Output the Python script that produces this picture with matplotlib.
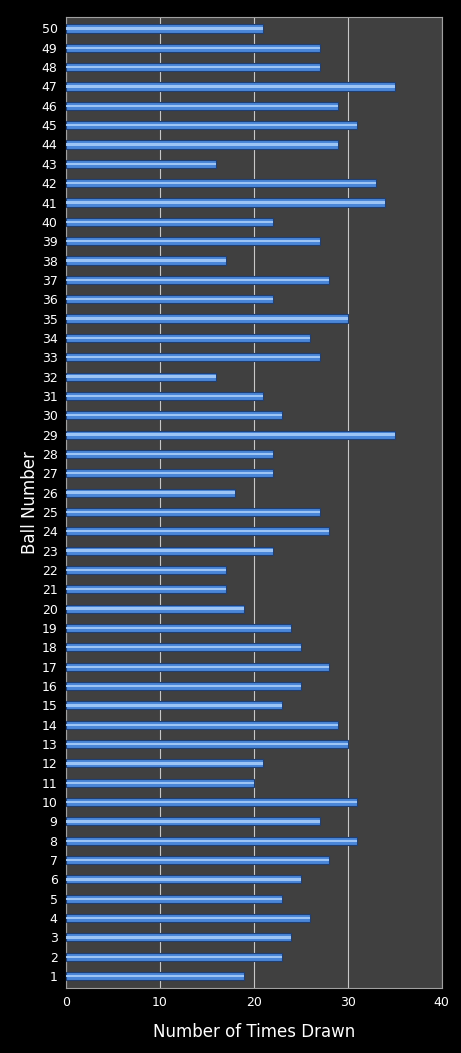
import matplotlib
matplotlib.use("Agg")
import matplotlib.pyplot as plt

balls = list(range(1, 51))
counts = [19, 23, 24, 26, 23, 25, 28, 31, 27, 31,
          20, 21, 30, 29, 23, 25, 28, 25, 24, 19,
          17, 17, 22, 28, 27, 18, 22, 22, 35, 23,
          21, 16, 27, 26, 30, 22, 28, 17, 27, 22,
          34, 33, 16, 29, 31, 29, 35, 27, 27, 21]

fig = plt.figure(figsize=(4.61, 10.53), dpi=100, facecolor='black')
ax = fig.add_axes([0.143, 0.062, 0.815, 0.922])
ax.set_facecolor('#404040')
ax.barh(balls, counts, height=0.42, color='#4a86d8', edgecolor='#1f3f73', linewidth=0.8, zorder=3)
ax.barh(balls, counts, height=0.12, left=0, color='#9cc4f5', linewidth=0, zorder=4,
        align='center')
ax.set_xlim(0, 40)
ax.set_ylim(0.4, 50.6)
ax.set_xticks([0, 10, 20, 30, 40])
ax.set_yticks(balls)
ax.set_yticklabels([str(b) for b in balls])
ax.grid(axis='x', color='#c8c8c8', linewidth=0.8, zorder=1)
ax.tick_params(colors='white', labelsize=9, length=0, pad=6)
for s in ax.spines.values():
    s.set_color('#a0a0a0')
ax.set_xlabel('Number of Times Drawn', color='white', fontsize=12, labelpad=10)
ax.set_ylabel('Ball Number', color='white', fontsize=12, labelpad=2)
fig.savefig('out.png', facecolor='black')
